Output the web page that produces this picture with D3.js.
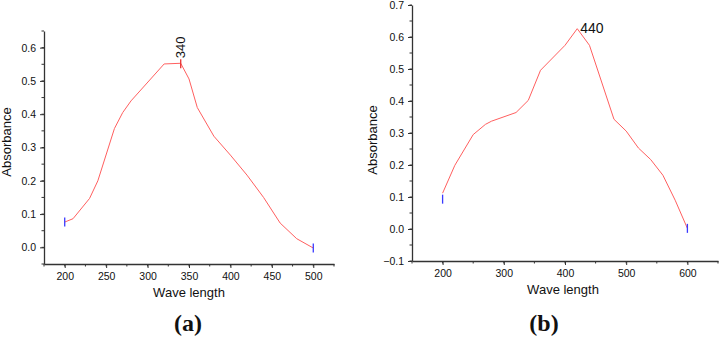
<!DOCTYPE html>
<html>
<head>
<meta charset="utf-8">
<script src="https://cdn.jsdelivr.net/npm/d3@7"></script>
<style>
  body { margin: 0; background: #fff; }
  svg { display: block; }
  text { font-family: "Liberation Sans", Arial, sans-serif; fill: #111; }
</style>
</head>
<body>
<svg id="chart" width="719" height="337"></svg>
<script>
// panel (a)
const waveA = [200, 210, 230, 240, 260, 270, 280, 320, 340, 350, 360, 380, 400, 420, 440, 460, 480, 500];
const absA = [0.076, 0.086, 0.147, 0.200, 0.357, 0.405, 0.440, 0.551, 0.553, 0.506, 0.420, 0.334, 0.277, 0.217, 0.150, 0.073, 0.026, -0.002];
const ticksXA = [200, 250, 300, 350, 400, 450, 500];
const ticksYA = [0.0, 0.1, 0.2, 0.3, 0.4, 0.5, 0.6];

// panel (b)
const waveB = [200, 220, 250, 270, 280, 320, 340, 360, 400, 420, 440, 480, 500, 520, 540, 560, 580, 600];
const absB = [0.112, 0.199, 0.295, 0.327, 0.337, 0.364, 0.402, 0.496, 0.574, 0.626, 0.574, 0.343, 0.306, 0.253, 0.217, 0.168, 0.090, 0.002];
const ticksXB = [200, 300, 400, 500, 600];
const ticksYB = [-0.1, 0.0, 0.1, 0.2, 0.3, 0.4, 0.5, 0.6, 0.7];

const svg = d3.select('#chart');
const lineColor = '#ff5f5f';
const axisColor = '#333';

function drawPanel(opt) {
    const x = d3.scaleLinear().domain(opt.xDomain).range([opt.left, opt.right]);
    const y = d3.scaleLinear().domain(opt.yDomain).range([opt.bottom, opt.top]);
    const g = svg.append('g');

    // minor ticks
    const minorX = d3.range(opt.xDomain[0], opt.xDomain[1] + 0.001, opt.xMinor);
    const minorY = d3.range(opt.yDomain[0], opt.yDomain[1] + 0.0001, opt.yMinor);

    g.selectAll('.mx').data(minorX).join('line')
        .attr('x1', d => x(d)).attr('x2', d => x(d))
        .attr('y1', opt.bottom).attr('y2', opt.bottom + 2.5)
        .attr('stroke', axisColor).attr('stroke-width', 1);
    g.selectAll('.my').data(minorY).join('line')
        .attr('x1', opt.left - 2.5).attr('x2', opt.left)
        .attr('y1', d => y(d)).attr('y2', d => y(d))
        .attr('stroke', axisColor).attr('stroke-width', 1);

    const xAxis = g.append('g')
        .attr('transform', `translate(0,${opt.bottom})`)
        .call(d3.axisBottom(x).tickValues(opt.xTicks).tickSize(4).tickSizeOuter(0).tickPadding(5));
    const yAxis = g.append('g')
        .attr('transform', `translate(${opt.left},0)`)
        .call(d3.axisLeft(y).tickValues(opt.yTicks).tickSize(4).tickSizeOuter(0).tickPadding(4).tickFormat(d3.format('.1f')));

    [xAxis, yAxis].forEach(a => {
        a.select('.domain').attr('stroke', axisColor).attr('stroke-width', 1.3);
        a.selectAll('.tick line').attr('stroke', axisColor).attr('stroke-width', 1);
        a.selectAll('.tick text').style('font-size', '10.5px').style('font-family', '"Liberation Sans", Arial, sans-serif').attr('fill', '#222');
    });

    const line = d3.line().x(d => x(d[0])).y(d => y(d[1]));
    g.append('path')
        .datum(opt.wave.map((w, i) => [w, opt.abs[i]]))
        .attr('d', line)
        .attr('fill', 'none')
        .attr('stroke', lineColor)
        .attr('stroke-width', 1);

    // end markers
    opt.markers.forEach(m => {
        const i = opt.wave.indexOf(m.w);
        const cy = y(opt.abs[i]) + (m.dy || 0);
        g.append('line')
            .attr('x1', x(m.w)).attr('x2', x(m.w))
            .attr('y1', cy - 4.5).attr('y2', cy + 4.5)
            .attr('stroke', m.color).attr('stroke-width', 1.3);
    });

    // peak label
    const pi = opt.wave.indexOf(opt.peakAt);
    const px = x(opt.peakAt), py = y(opt.abs[pi]);
    if (opt.rotateLabel) {
        g.append('text')
            .attr('transform', `translate(${px + 4},${py - 5}) rotate(-90)`)
            .attr('text-anchor', 'start')
            .style('font-size', '13px')
            .text(opt.peakLabel);
    } else {
        g.append('text')
            .attr('x', px + 3).attr('y', py + 1)
            .attr('dominant-baseline', 'middle')
            .style('font-size', '14px')
            .text(opt.peakLabel);
    }

    g.append('text')
        .attr('x', (opt.left + opt.right) / 2 + opt.xTitleShift).attr('y', opt.bottom + 33)
        .attr('text-anchor', 'middle')
        .style('font-size', '13px')
        .text('Wave length');

    g.append('text')
        .attr('transform', `translate(${opt.yTitleX},${opt.yTitleY}) rotate(-90)`)
        .attr('text-anchor', 'middle')
        .style('font-size', '13px')
        .text('Absorbance');

    g.append('text')
        .attr('x', opt.captionX).attr('y', 331)
        .attr('text-anchor', 'middle')
        .style('font-family', '"Liberation Serif", "Times New Roman", serif')
        .style('font-weight', 'bold')
        .style('font-size', '24px')
        .text(opt.caption);
}

drawPanel({
    wave: waveA, abs: absA,
    xDomain: [175, 525], yDomain: [-0.05, 0.65],
    xTicks: ticksXA, yTicks: ticksYA, xMinor: 25, yMinor: 0.05,
    left: 44, right: 334, top: 31, bottom: 264,
    markers: [{ w: 200, color: '#3a3aff' }, { w: 340, color: '#e83030', dy: 0.5 }, { w: 500, color: '#3a3aff' }],
    peakAt: 340, peakLabel: '340', rotateLabel: true,
    xTitleShift: 0, yTitleX: 11, yTitleY: 142, captionX: 188, caption: '(a)'
});

drawPanel({
    wave: waveB, abs: absB,
    xDomain: [150, 650], yDomain: [-0.1, 0.7],
    xTicks: ticksXB, yTicks: ticksYB, xMinor: 50, yMinor: 0.05,
    left: 412, right: 718, top: 5, bottom: 261,
    markers: [{ w: 200, color: '#3a3aff', dy: 6 }, { w: 600, color: '#3a3aff', dy: 0 }],
    peakAt: 420, peakLabel: '440', rotateLabel: false,
    xTitleShift: -2, yTitleX: 377, yTitleY: 140, captionX: 544, caption: '(b)'
});
</script>
</body>
</html>
